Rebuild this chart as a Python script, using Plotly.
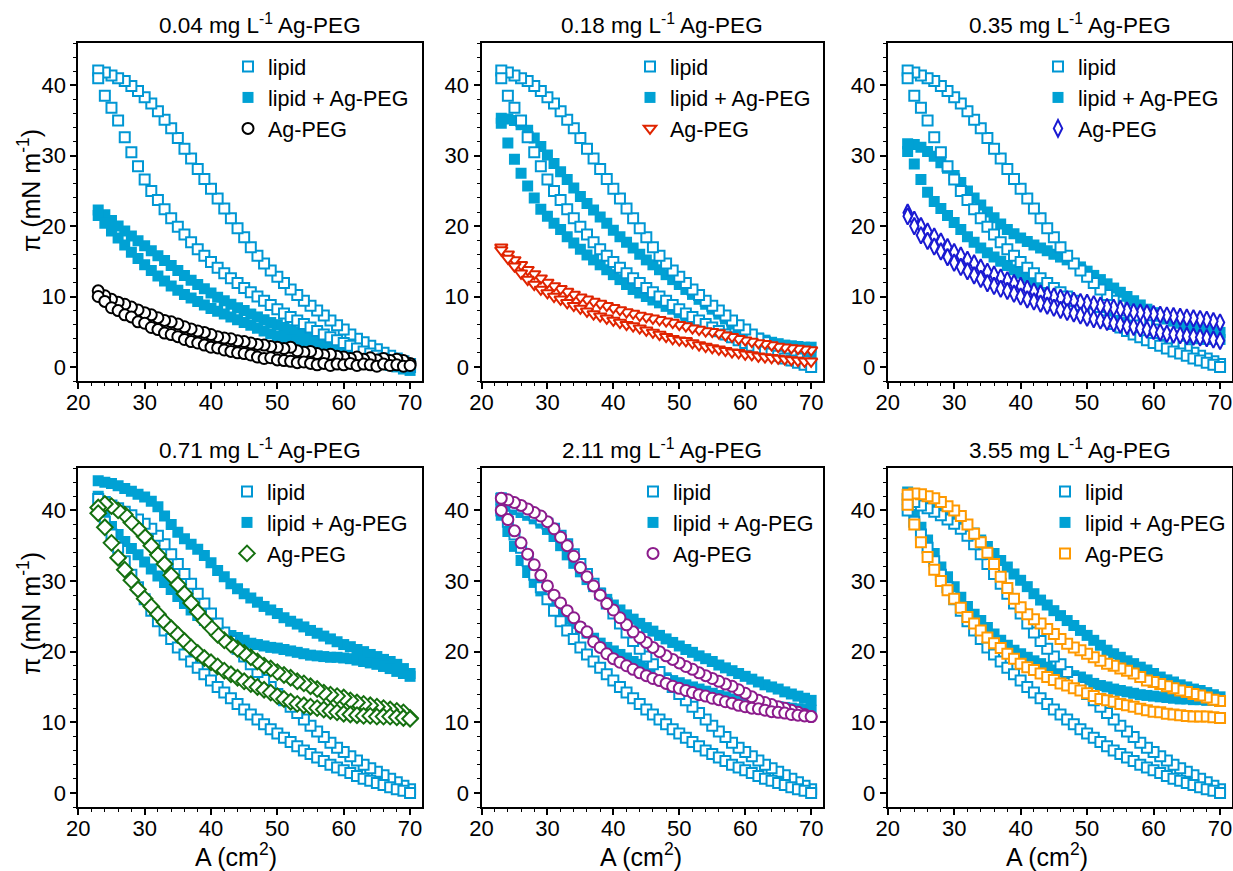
import plotly.graph_objects as go

# ---------------- data (surface pressure, mN/m, read at each trough area) ----------------
AREA = [23, 24, 25, 26, 27, 28, 29, 30, 31, 32,
        33, 34, 35, 36, 37, 38, 39, 40, 41, 42,
        43, 44, 45, 46, 47, 48, 49, 50, 51, 52,
        53, 54, 55, 56, 57, 58, 59, 60, 61, 62,
        63, 64, 65, 66, 67, 68, 69, 70]

# pure lipid reference loop, top row (outer branch / inner branch)
LIPID_TOP_HI = [42.1, 41.8, 41.4, 41.0, 40.6, 39.9, 39.2, 38.3, 37.4, 36.3,
                35.1, 33.9, 32.5, 31.0, 29.6, 28.1, 26.7, 25.3, 23.9, 22.5,
                21.1, 19.7, 18.4, 17.0, 15.8, 14.7, 13.7, 12.8, 11.9, 11.0,
                10.2, 9.4, 8.7, 8.0, 7.3, 6.6, 5.9, 5.3, 4.6, 4.0,
                3.5, 3.0, 2.5, 2.0, 1.6, 1.2, 0.8, 0.4]
LIPID_TOP_LO = [41.0, 38.5, 36.8, 35.0, 32.6, 30.5, 28.5, 26.6, 25.0, 23.7,
                22.4, 21.1, 19.9, 18.8, 17.7, 16.7, 15.8, 14.9, 14.1, 13.3,
                12.6, 11.9, 11.2, 10.6, 10.0, 9.4, 8.8, 8.2, 7.6, 7.1,
                6.6, 6.1, 5.6, 5.1, 4.6, 4.2, 3.8, 3.4, 3.0, 2.6,
                2.2, 1.9, 1.6, 1.2, 0.9, 0.6, 0.3, 0.0]
# pure lipid reference loop, bottom row
LIPID_BOT_HI = [41.6, 41.2, 40.7, 40.3, 39.8, 39.3, 38.7, 38.1, 37.4, 36.4,
                35.2, 33.8, 32.4, 31.0, 29.6, 28.2, 26.8, 25.4, 24.0, 22.7,
                21.5, 20.4, 19.3, 18.2, 17.1, 16.0, 15.0, 14.0, 13.1, 12.2,
                11.3, 10.4, 9.5, 8.7, 7.9, 7.1, 6.4, 5.8, 5.2, 4.6,
                4.0, 3.5, 3.0, 2.5, 2.0, 1.5, 1.0, 0.5]
LIPID_BOT_LO = [40.0, 38.4, 36.6, 34.7, 32.8, 30.9, 29.1, 27.4, 25.8, 24.3,
                23.0, 21.8, 20.6, 19.6, 18.6, 17.7, 16.8, 15.9, 15.0, 14.2,
                13.4, 12.6, 11.8, 11.1, 10.4, 9.7, 9.0, 8.4, 7.8, 7.2,
                6.6, 6.0, 5.5, 5.0, 4.5, 4.0, 3.6, 3.2, 2.8, 2.4,
                2.0, 1.7, 1.4, 1.1, 0.8, 0.5, 0.3, 0.0]

# lipid + Ag-PEG loops
MIX1_HI = [22.3, 21.6, 20.8, 20.0, 19.3, 18.6, 17.9, 17.2, 16.5, 15.8,
           15.1, 14.4, 13.7, 13.0, 12.3, 11.7, 11.1, 10.5, 9.9, 9.4,
           8.9, 8.4, 8.0, 7.5, 7.1, 6.7, 6.3, 6.0, 5.6, 5.3,
           5.0, 4.6, 4.3, 4.0, 3.7, 3.4, 3.1, 2.8, 2.5, 2.2,
           2.0, 1.7, 1.4, 1.2, 0.9, 0.6, 0.3, 0.0]
MIX1_LO = [21.5, 20.4, 19.3, 18.3, 17.3, 16.3, 15.4, 14.5, 13.7, 12.9,
           12.2, 11.5, 10.9, 10.3, 9.8, 9.3, 8.8, 8.3, 7.9, 7.5,
           7.1, 6.7, 6.3, 5.9, 5.5, 5.1, 4.7, 4.4, 4.1, 3.8,
           3.5, 3.2, 2.9, 2.6, 2.3, 2.1, 1.8, 1.6, 1.4, 1.2,
           1.0, 0.8, 0.6, 0.4, 0.2, 0.0, -0.3, -0.5]
MIX2_HI = [35.3, 35.2, 35.0, 34.4, 33.6, 32.5, 31.3, 30.1, 28.9, 27.7,
           26.6, 25.4, 24.2, 23.2, 22.3, 21.3, 20.4, 19.4, 18.5, 17.7,
           16.9, 16.0, 15.2, 14.5, 13.8, 13.1, 12.4, 11.7, 11.0, 10.3,
           9.6, 8.9, 8.2, 7.5, 6.8, 6.1, 5.5, 5.0, 4.5, 4.1,
           3.8, 3.5, 3.3, 3.1, 3.0, 2.9, 2.8, 2.8]
MIX2_LO = [34.6, 31.8, 29.5, 27.5, 25.7, 24.0, 22.4, 21.4, 20.4, 19.5,
           18.5, 17.6, 16.7, 15.9, 15.2, 14.5, 13.8, 13.1, 12.4, 11.7,
           11.0, 10.5, 10.0, 9.5, 9.1, 8.6, 8.2, 7.7, 7.2, 6.7,
           6.3, 5.8, 5.3, 5.0, 4.6, 4.2, 3.9, 3.5, 3.2, 3.0,
           2.7, 2.5, 2.3, 2.1, 2.0, 1.9, 1.8, 1.8]
MIX3_HI = [31.7, 31.6, 31.2, 30.6, 29.9, 29.0, 28.2, 27.2, 26.2, 25.0,
           24.0, 23.0, 22.0, 21.2, 20.3, 19.5, 18.9, 18.3, 17.8, 17.3,
           16.9, 16.5, 16.0, 15.6, 15.2, 14.7, 14.2, 13.6, 13.0, 12.4,
           11.8, 11.2, 10.6, 10.0, 9.4, 8.8, 8.2, 7.7, 7.2, 6.8,
           6.5, 6.2, 5.9, 5.6, 5.4, 5.2, 5.0, 4.9]
MIX3_LO = [30.6, 28.8, 26.6, 24.8, 23.5, 22.5, 21.5, 20.5, 19.5, 18.5,
           17.7, 16.9, 16.2, 15.6, 15.0, 14.4, 13.8, 13.3, 12.7, 12.2,
           11.7, 11.3, 10.9, 10.4, 9.8, 9.3, 8.8, 8.2, 7.8, 7.4,
           7.0, 6.6, 6.3, 5.9, 5.5, 5.2, 5.0, 4.8, 4.6, 4.5,
           4.4, 4.3, 4.2, 4.1, 4.0, 3.9, 3.9, 3.9]
MIX4_HI = [44.2, 44.0, 43.8, 43.5, 43.1, 42.7, 42.3, 41.9, 41.3, 40.5,
           39.2, 38.0, 36.9, 36.0, 35.2, 34.5, 33.6, 32.6, 31.5, 30.6,
           29.6, 28.9, 28.2, 27.6, 27.0, 26.4, 25.9, 25.4, 24.8, 24.3,
           23.9, 23.5, 23.0, 22.6, 22.2, 21.8, 21.4, 21.0, 20.7, 20.3,
           20.0, 19.6, 19.3, 18.9, 18.6, 18.2, 17.6, 16.9]
MIX4_LO = [42.0, 39.2, 37.7, 36.6, 35.6, 34.6, 33.7, 32.7, 31.7, 30.7,
           29.8, 28.8, 27.8, 26.8, 25.9, 25.1, 24.4, 23.7, 23.0, 22.6,
           22.3, 22.0, 21.6, 21.2, 21.0, 20.8, 20.6, 20.5, 20.3, 20.1,
           19.9, 19.7, 19.5, 19.4, 19.3, 19.2, 19.2, 19.1, 19.0, 18.8,
           18.6, 18.4, 18.2, 17.9, 17.6, 17.2, 16.9, 16.5]
MIX5_HI = [41.8, 40.6, 40.1, 39.7, 39.3, 38.8, 38.2, 37.3, 36.3, 35.0,
           33.7, 32.5, 31.3, 30.2, 29.2, 28.3, 27.4, 26.6, 25.9, 25.2,
           24.6, 24.0, 23.4, 22.9, 22.3, 21.8, 21.3, 20.8, 20.3, 19.9,
           19.4, 19.0, 18.6, 18.1, 17.7, 17.3, 16.9, 16.5, 16.1, 15.7,
           15.3, 15.0, 14.7, 14.3, 14.0, 13.7, 13.4, 13.1]
MIX5_LO = [39.3, 37.0, 34.9, 32.9, 31.2, 29.8, 28.6, 27.4, 26.3, 25.3,
           24.6, 24.0, 23.3, 22.6, 21.9, 21.2, 20.6, 20.1, 19.6, 19.1,
           18.6, 18.2, 17.7, 17.3, 16.8, 16.3, 15.9, 15.6, 15.3, 15.0,
           14.7, 14.4, 14.1, 13.8, 13.6, 13.3, 13.1, 12.9, 12.7, 12.5,
           12.4, 12.3, 12.2, 12.1, 12.0, 11.9, 11.8, 11.7]
MIX6_HI = [42.6, 42.3, 41.9, 41.4, 40.9, 40.5, 40.0, 39.4, 38.7, 37.7,
           36.8, 35.8, 34.9, 33.9, 32.9, 32.0, 31.0, 30.1, 29.2, 28.2,
           27.3, 26.6, 25.8, 25.1, 24.4, 23.7, 23.0, 22.3, 21.6, 20.9,
           20.2, 19.7, 19.2, 18.7, 18.3, 17.8, 17.4, 16.9, 16.4, 16.0,
           15.7, 15.3, 15.0, 14.7, 14.5, 14.2, 13.9, 13.6]
MIX6_LO = [41.2, 39.4, 37.6, 35.8, 33.9, 32.0, 30.6, 29.2, 27.7, 26.4,
           25.3, 24.4, 23.4, 22.5, 21.6, 20.9, 20.2, 19.7, 19.2, 18.7,
           18.3, 17.8, 17.4, 17.1, 16.9, 16.6, 16.4, 16.0, 15.5, 15.2,
           15.0, 14.7, 14.5, 14.3, 14.1, 13.9, 13.8, 13.7, 13.6, 13.5,
           13.4, 13.3, 13.3, 13.2, 13.2, 13.1, 13.1, 13.1]

# Ag-PEG alone loops
AG1_HI = [10.8, 10.1, 9.6, 9.2, 8.9, 8.5, 8.1, 7.7, 7.4, 7.0,
          6.6, 6.4, 6.1, 5.7, 5.4, 5.1, 4.9, 4.6, 4.3, 4.1,
          4.0, 3.7, 3.6, 3.4, 3.2, 3.1, 2.9, 2.8, 2.6, 2.8,
          2.3, 2.1, 2.2, 1.9, 1.7, 1.8, 1.5, 1.4, 1.2, 1.4,
          1.1, 1.3, 1.0, 1.2, 0.9, 1.1, 0.9, 0.5]
AG1_LO = [10.0, 9.3, 8.4, 8.0, 7.4, 7.1, 6.4, 6.2, 5.6, 5.3,
          4.8, 4.6, 4.3, 3.9, 3.6, 3.4, 3.1, 2.8, 2.7, 2.4,
          2.2, 2.0, 1.9, 1.7, 1.4, 1.2, 1.3, 1.0, 0.9, 0.8,
          0.6, 0.7, 0.5, 0.3, 0.5, 0.2, 0.4, 0.3, 0.5, 0.2,
          0.4, 0.3, 0.1, 0.4, 0.2, 0.3, 0.1, 0.2]
AG2_HI = [17.0, 16.0, 15.2, 14.5, 13.8, 13.2, 12.6, 12.0, 11.5, 11.1,
          10.7, 10.3, 9.9, 9.6, 9.3, 9.0, 8.7, 8.4, 8.1, 7.8,
          7.6, 7.3, 7.1, 6.9, 6.7, 6.5, 6.3, 6.0, 5.8, 5.5,
          5.3, 5.1, 5.0, 4.8, 4.5, 4.3, 4.0, 3.8, 3.6, 3.4,
          3.3, 3.1, 2.9, 2.8, 2.7, 2.6, 2.5, 2.4]
AG2_LO = [16.6, 15.4, 14.3, 13.3, 12.4, 11.7, 11.0, 10.5, 10.0, 9.6,
          9.1, 8.7, 8.3, 7.9, 7.5, 7.2, 6.9, 6.6, 6.3, 6.0,
          5.8, 5.5, 5.2, 4.9, 4.6, 4.3, 4.0, 3.8, 3.7, 3.4,
          3.1, 2.9, 2.7, 2.5, 2.3, 2.1, 2.0, 1.8, 1.7, 1.5,
          1.4, 1.3, 1.2, 1.1, 1.0, 0.9, 0.8, 0.8]
AG3_HI = [21.9, 20.9, 20.0, 19.2, 18.5, 17.8, 17.0, 16.3, 15.8, 15.2,
          14.7, 14.1, 13.5, 13.1, 12.7, 12.3, 11.9, 11.5, 11.1, 10.7,
          10.4, 10.2, 10.0, 9.8, 9.6, 9.4, 9.2, 9.1, 8.9, 8.7,
          8.5, 8.4, 8.2, 8.0, 7.8, 7.7, 7.6, 7.5, 7.4, 7.3,
          7.2, 7.1, 7.0, 6.9, 6.8, 6.7, 6.5, 6.3]
AG3_LO = [21.4, 20.0, 18.7, 17.9, 17.1, 16.4, 15.6, 14.8, 14.2, 13.6,
          13.0, 12.5, 11.9, 11.5, 11.1, 10.8, 10.4, 10.0, 9.6, 9.3,
          9.0, 8.7, 8.4, 8.1, 7.8, 7.6, 7.3, 7.0, 6.8, 6.6,
          6.4, 6.2, 6.0, 5.8, 5.7, 5.5, 5.3, 5.1, 4.9, 4.7,
          4.6, 4.5, 4.4, 4.3, 4.2, 4.1, 3.9, 3.7]
AG4_HI = [40.4, 40.9, 40.6, 40.0, 39.4, 38.3, 37.4, 36.3, 35.0, 33.7,
          32.4, 30.8, 29.5, 28.2, 26.9, 25.6, 24.4, 23.4, 22.4, 21.6,
          21.0, 20.4, 19.8, 19.2, 18.6, 18.0, 17.6, 17.1, 16.7, 16.3,
          15.8, 15.5, 15.1, 14.7, 14.2, 13.9, 13.7, 13.5, 13.1, 12.8,
          12.6, 12.4, 12.2, 12.0, 11.8, 11.6, 11.4, 10.6]
AG4_LO = [39.6, 37.6, 35.4, 33.3, 31.6, 30.1, 28.8, 27.5, 26.4, 25.3,
          24.2, 23.3, 22.4, 21.5, 20.6, 19.8, 19.1, 18.5, 17.9, 17.3,
          16.8, 16.3, 15.8, 15.4, 15.0, 14.6, 14.2, 13.7, 13.3, 12.9,
          12.6, 12.4, 12.2, 12.0, 11.8, 11.6, 11.4, 11.2, 11.1, 11.0,
          10.9, 10.9, 10.8, 10.8, 10.8, 10.7, 10.6, 10.5]
AG5_HI = [41.7, 41.5, 41.1, 40.7, 40.2, 39.7, 39.2, 38.4, 37.4, 36.2,
          35.0, 33.5, 31.9, 30.6, 29.3, 28.0, 26.8, 25.9, 24.8, 23.8,
          22.8, 22.0, 21.3, 20.6, 20.0, 19.4, 18.9, 18.4, 17.9, 17.5,
          17.0, 16.6, 16.2, 15.8, 15.4, 15.1, 14.6, 14.1, 13.6, 13.1,
          12.8, 12.5, 12.2, 12.0, 11.7, 11.4, 11.1, 10.8]
AG5_LO = [40.0, 38.7, 37.1, 35.4, 33.8, 32.3, 30.8, 29.3, 28.0, 26.9,
          25.8, 24.8, 23.5, 22.8, 21.4, 20.6, 19.7, 19.0, 18.5, 18.0,
          17.5, 17.0, 16.6, 16.2, 15.9, 15.5, 15.1, 14.8, 14.5, 14.2,
          13.9, 13.7, 13.4, 13.2, 12.9, 12.7, 12.4, 12.2, 12.0, 11.9,
          11.7, 11.5, 11.4, 11.3, 11.1, 11.0, 10.9, 10.8]
AG6_HI = [42.2, 42.4, 42.3, 42.0, 41.7, 41.2, 40.6, 40.0, 39.2, 38.0,
          36.7, 35.5, 34.0, 32.4, 30.6, 29.0, 27.5, 26.3, 25.3, 24.6,
          24.0, 23.2, 22.5, 21.8, 21.1, 20.6, 20.2, 19.7, 19.2, 18.7,
          18.3, 18.0, 17.6, 17.3, 16.9, 16.4, 15.9, 15.7, 15.4, 15.1,
          14.8, 14.5, 14.3, 14.0, 13.8, 13.5, 13.2, 13.0]
AG6_LO = [40.8, 38.0, 35.5, 33.4, 31.6, 30.0, 28.7, 27.5, 26.2, 24.9,
          24.0, 23.0, 22.0, 21.2, 20.5, 19.7, 19.0, 18.3, 17.8, 17.4,
          16.9, 16.4, 16.0, 15.5, 15.2, 14.8, 14.5, 14.1, 13.7, 13.3,
          13.1, 12.9, 12.6, 12.4, 12.2, 11.9, 11.7, 11.5, 11.4, 11.2,
          11.1, 11.0, 10.9, 10.8, 10.8, 10.8, 10.7, 10.6]

CONCENTRATIONS = ["0.04", "0.18", "0.35", "0.71", "2.11", "3.55"]
SERIES_NAMES = ["lipid", "lipid + Ag-PEG", "Ag-PEG"]

# ---------------- styling ----------------
FONT = "Liberation Sans, Arial, Helvetica, sans-serif"
LIPID_COLOR = "#0097d4"
MIX_COLOR = "#00a1d4"
AG_STYLE = [
    ("#000000", "circle", 11),
    ("#e02400", "triangle-down", 11),
    ("#1a1ad2", "diamond-tall", 12),
    ("#157010", "diamond", 12),
    ("#8c1c8c", "circle", 11),
    ("#ff9900", "square", 10),
]

W, H = 1233, 871
COLS_PX = [(78.3, 422.0), (481.5, 823.0), (887.7, 1232.0)]
ROWS_PX = [(43.0, 381.0), (468.0, 807.0)]


def px(xp):
    return xp / W


def py(yp):
    return 1 - yp / H


LIPID = [(LIPID_TOP_HI, LIPID_TOP_LO)] * 3 + [(LIPID_BOT_HI, LIPID_BOT_LO)] * 3
MIX = [(MIX1_HI, MIX1_LO), (MIX2_HI, MIX2_LO), (MIX3_HI, MIX3_LO),
       (MIX4_HI, MIX4_LO), (MIX5_HI, MIX5_LO), (MIX6_HI, MIX6_LO)]
AG = [(AG1_HI, AG1_LO), (AG2_HI, AG2_LO), (AG3_HI, AG3_LO),
      (AG4_HI, AG4_LO), (AG5_HI, AG5_LO), (AG6_HI, AG6_LO)]

LEGEND_MARK_PX = [(248, 67), (650, 67), (1058, 67),
                  (247, 492), (653, 492), (1065, 492)]


def loop(hi, lo):
    xs = AREA[::-1] + AREA
    ys = hi[::-1] + lo
    return xs, ys


fig = go.Figure()
annotations = []

for i in range(6):
    r, c = divmod(i, 3)
    suffix = "" if i == 0 else str(i + 1)
    xa, ya = "x" + suffix, "y" + suffix
    leg = "legend" + suffix

    x, y = loop(*MIX[i])
    fig.add_trace(go.Scatter(
        x=x, y=y, mode="markers", name=SERIES_NAMES[1], xaxis=xa, yaxis=ya,
        legend=leg, legendrank=2,
        marker=dict(symbol="square", size=11, color=MIX_COLOR,
                    line=dict(width=0))))
    x, y = loop(*LIPID[i])
    fig.add_trace(go.Scatter(
        x=x, y=y, mode="markers", name=SERIES_NAMES[0], xaxis=xa, yaxis=ya,
        legend=leg, legendrank=1,
        marker=dict(symbol="square", size=10, color="white",
                    line=dict(width=2, color=LIPID_COLOR))))
    col, sym, sz = AG_STYLE[i]
    x, y = loop(*AG[i])
    fig.add_trace(go.Scatter(
        x=x, y=y, mode="markers", name=SERIES_NAMES[2], xaxis=xa, yaxis=ya,
        legend=leg, legendrank=3,
        marker=dict(symbol=sym, size=sz, color="white",
                    line=dict(width=2, color=col))))

    x0, x1 = COLS_PX[c]
    y0, y1 = ROWS_PX[r]
    axis_common = dict(
        showline=True, linecolor="black", linewidth=2, mirror=True,
        ticks="outside", ticklen=6, tickwidth=1.5, tickcolor="black",
        showgrid=False, zeroline=False, automargin=False,
        tickfont=dict(family=FONT, size=22, color="black"),
        minor=dict(ticks="outside", ticklen=3, tickwidth=1, tickcolor="black",
                   dtick=2, showgrid=False),
    )
    fig.layout["xaxis" + suffix] = dict(
        axis_common, domain=[px(x0), px(x1)], range=[20, 71.8],
        tick0=0, dtick=10, anchor=ya, ticklabelstandoff=-5)
    fig.layout["yaxis" + suffix] = dict(
        axis_common, domain=[py(y1), py(y0)], range=[-2, 46],
        tick0=0, dtick=10, anchor=xa)

    mx, my = LEGEND_MARK_PX[i]
    fig.layout[leg] = dict(
        x=px(mx - 20), y=py(my - 21), xanchor="left", yanchor="top",
        bgcolor="rgba(0,0,0,0)", borderwidth=0,
        font=dict(family=FONT, size=21.5, color="black"),
        tracegroupgap=0, itemsizing="trace")

    annotations.append(dict(
        text=f"{CONCENTRATIONS[i]} mg L<sup>-1</sup> Ag-PEG",
        x=px((x0 + x1) / 2 + 10), y=py(24 if r == 0 else 449),
        xref="paper", yref="paper", xanchor="center", yanchor="middle",
        showarrow=False, font=dict(family=FONT, size=22.5, color="black")))

for r, cy in enumerate([191, 614]):
    annotations.append(dict(
        text="π (mN m<sup>-1</sup>)", x=px(29), y=py(cy),
        xref="paper", yref="paper", xanchor="center", yanchor="middle",
        textangle=-90, showarrow=False,
        font=dict(family=FONT, size=25, color="black")))
for c, cx in enumerate([236, 641, 1047]):
    annotations.append(dict(
        text="A (cm<sup>2</sup>)", x=px(cx), y=py(855),
        xref="paper", yref="paper", xanchor="center", yanchor="middle",
        showarrow=False, font=dict(family=FONT, size=25, color="black")))

fig.update_layout(
    width=W, height=H, margin=dict(l=0, r=0, t=0, b=0, autoexpand=False),
    paper_bgcolor="white", plot_bgcolor="white",
    font=dict(family=FONT, color="black"),
    annotations=annotations, showlegend=True)

# remove the browser's default 8px page margin so the figure fills the window
fig.write_html(
    "out.html",
    config={"displayModeBar": False},
    post_script="document.body.style.margin='0px';"
                "document.body.style.overflow='hidden';")
